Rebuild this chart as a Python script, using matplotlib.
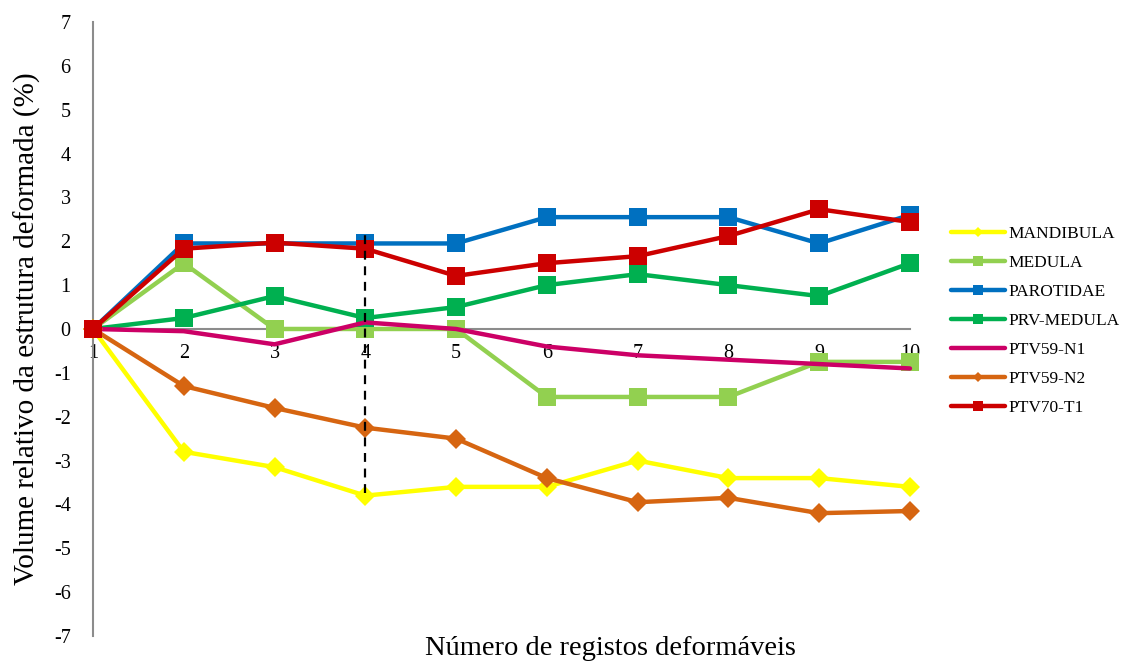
import matplotlib
matplotlib.use("Agg")
import matplotlib.pyplot as plt

plt.rcParams['font.family'] = ['Liberation Serif', 'DejaVu Serif']
plt.rcParams['axes.unicode_minus'] = False

registos = [1, 2, 3, 4, 5, 6, 7, 8, 9, 10]

mandibula = [0, -2.8, -3.15, -3.8, -3.6, -3.6, -3.0, -3.4, -3.4, -3.6]
medula = [0, 1.5, 0, 0, 0, -1.55, -1.55, -1.55, -0.75, -0.75]
parotidae = [0, 1.95, 1.95, 1.95, 1.95, 2.55, 2.55, 2.55, 1.95, 2.6]
prv_medula = [0, 0.25, 0.75, 0.25, 0.5, 1.0, 1.25, 1.0, 0.75, 1.5]
ptv59_n1 = [0, -0.05, -0.35, 0.15, 0.0, -0.4, -0.6, -0.7, -0.8, -0.9]
ptv59_n2 = [0, -1.3, -1.8, -2.25, -2.5, -3.4, -3.95, -3.85, -4.2, -4.15]
ptv70_t1 = [0, 1.83, 1.97, 1.83, 1.21, 1.5, 1.66, 2.12, 2.73, 2.44]

y_ticks = list(range(-7, 8))
marca_x = 4
marca_y = (-3.75, 2.25)

series = [
    ("MANDIBULA", mandibula, "#FFFF00", "D", 10),
    ("MEDULA", medula, "#92D050", "s", 13),
    ("PAROTIDAE", parotidae, "#0070C0", "s", 13),
    ("PRV-MEDULA", prv_medula, "#00B050", "s", 13),
    ("PTV59-N1", ptv59_n1, "#CC0066", None, 0),
    ("PTV59-N2", ptv59_n2, "#D66511", "D", 10),
    ("PTV70-T1", ptv70_t1, "#CC0000", "s", 13),
]

fig = plt.figure(figsize=(11.28, 6.62), dpi=100)
ax = fig.add_axes([0.0824, 0.0393, 0.7243, 0.9275])

for nome, vals, cor, mk, ms in series:
    ax.plot(registos, vals, color=cor, lw=3.2, marker=mk, markersize=ms,
            markeredgewidth=0, label=nome, clip_on=False, zorder=3,
            solid_capstyle='round')

ax.plot([marca_x, marca_x], marca_y, color='black', lw=1.6,
        linestyle=(0, (4, 3)), zorder=4)

ax.set_xlim(1, 10)
ax.set_ylim(-7, 7)
ax.set_yticks(y_ticks)
ax.set_xticks(registos)
ax.spines['top'].set_visible(False)
ax.spines['right'].set_visible(False)
ax.spines['bottom'].set_position(('data', 0))
for s in ('left', 'bottom'):
    ax.spines[s].set_color('#8C8C8C')
    ax.spines[s].set_linewidth(1.5)
ax.spines['bottom'].set_zorder(1)
ax.tick_params(axis='both', length=0, labelsize=14.5)
ax.tick_params(axis='y', pad=16)
ax.tick_params(axis='x', pad=11)

ax.set_ylabel("Volume relativo da estrutura deformada (%)", fontsize=21, labelpad=9)
fig.text(0.541, 0.021, "Número de registos deformáveis", fontsize=20.5,
         ha='center', va='center')

leg = ax.legend(loc='upper left', bbox_to_anchor=(0.843, 0.659),
                bbox_transform=fig.transFigure, frameon=False, borderpad=0,
                borderaxespad=0, fontsize=12.5, markerscale=0.55,
                handlelength=3.1, handletextpad=0.2, labelspacing=0.74)

fig.savefig("out.png", dpi=100)
